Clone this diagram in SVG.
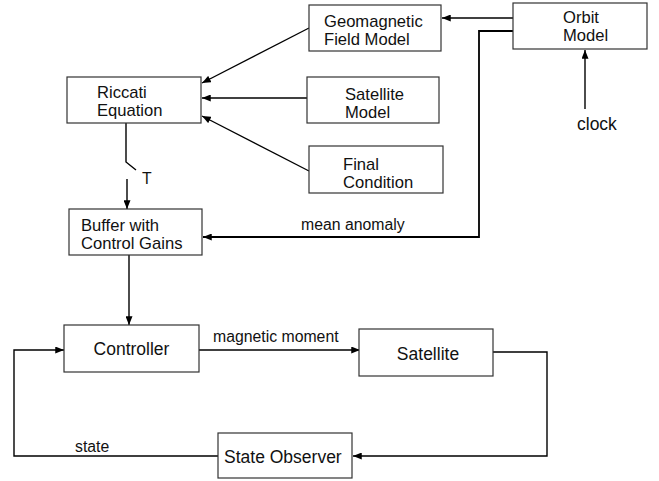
<svg xmlns="http://www.w3.org/2000/svg" width="659" height="481" viewBox="0 0 659 481">
<defs>
<marker id="ah" viewBox="0 0 10 8" refX="10" refY="4" markerWidth="9" markerHeight="7" markerUnits="userSpaceOnUse" orient="auto">
<path d="M0,0 L10,4 L0,8 Z" fill="#000"/>
</marker>
<style>
.box{fill:#fff;stroke:#333;stroke-width:1.2}
.t{font-family:"Liberation Sans",Arial,sans-serif;font-size:16.6px;fill:#111}
.s{font-family:"Liberation Sans",Arial,sans-serif;font-size:17.5px;fill:#111}
.l{font-family:"Liberation Sans",Arial,sans-serif;font-size:15.8px;fill:#111}
.c{fill:none;stroke:#000;stroke-width:1.4}
.a{marker-end:url(#ah)}
</style>
</defs>
<rect width="659" height="481" fill="#fff"/>
<g id="connectors">
<path class="c a" d="M513,18 L442,18"/>
<path class="c a" d="M513,31 L479,31 L479,237 L203,237" style="stroke-width:1.8"/>
<path class="c a" d="M585,109 L585,50"/>
<path class="c a" d="M309,28 L202,83"/>
<path class="c a" d="M307,98 L202,98"/>
<path class="c a" d="M309,171 L202,116"/>
<path class="c" d="M126,123 L126,162 L136,170"/>
<path class="c a" d="M127,179 L127,209"/>
<path class="c a" d="M129,255 L129,325"/>
<path class="c a" d="M199,350 L360,350"/>
<path class="c a" d="M493,352 L547,352 L547,456 L353,456"/>
<path class="c a" d="M218,456 L14,456 L14,350 L64,350"/>
<text class="l" x="142" y="184">T</text>
<text class="l" x="301" y="230">mean anomaly</text>
<text class="l" x="213" y="342">magnetic moment</text>
<text class="l" x="75" y="452">state</text>
<text class="s" x="577" y="130">clock</text>
</g>
<g id="geomagnetic">
<rect class="box" x="309" y="5" width="132" height="46"/>
<text class="t" x="324" y="26.7">Geomagnetic</text>
<text class="t" x="324" y="45.3">Field Model</text>
</g>
<g id="orbit">
<rect class="box" x="513" y="3" width="134" height="46"/>
<text class="t" x="563" y="22.7">Orbit</text>
<text class="t" x="563" y="41.3">Model</text>
</g>
<g id="riccati">
<rect class="box" x="67" y="77" width="134" height="46"/>
<text class="t" x="97" y="97.7">Riccati</text>
<text class="t" x="97" y="116.3">Equation</text>
</g>
<g id="satellite-model">
<rect class="box" x="307" y="77" width="132" height="46"/>
<text class="t" x="345" y="99.7">Satellite</text>
<text class="t" x="345" y="118.3">Model</text>
</g>
<g id="final-condition">
<rect class="box" x="309" y="146" width="134" height="47"/>
<text class="t" x="343" y="169.7">Final</text>
<text class="t" x="343" y="188.3">Condition</text>
</g>
<g id="buffer">
<rect class="box" x="69" y="209" width="133" height="46"/>
<text class="t" x="81" y="230.7">Buffer with</text>
<text class="t" x="81" y="249.3">Control Gains</text>
</g>
<g id="controller">
<rect class="box" x="64" y="325" width="135" height="47"/>
<text class="s" x="131.5" y="355" text-anchor="middle">Controller</text>
</g>
<g id="satellite">
<rect class="box" x="359" y="329" width="134" height="47"/>
<text class="s" x="428" y="360" text-anchor="middle">Satellite</text>
</g>
<g id="state-observer">
<rect class="box" x="218" y="433" width="134" height="45"/>
<text class="s" x="224" y="463">State Observer</text>
</g>
</svg>
